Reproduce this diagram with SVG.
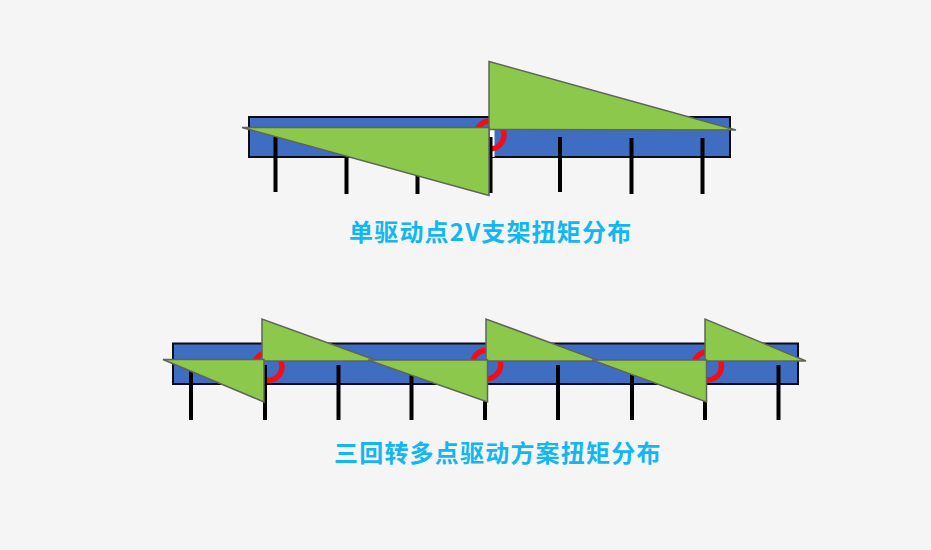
<svg xmlns="http://www.w3.org/2000/svg" width="931" height="550" viewBox="0 0 931 550">
<style>
.beam{fill:#3e6dc2;stroke:#0c0c14;stroke-width:2}
.post{stroke:#000;stroke-width:4;fill:none}
.arc{stroke:#f50c14;stroke-width:5.4;fill:none}
.tri{fill:#8bc84c;stroke:#5e6658;stroke-width:1.5;stroke-linejoin:miter}
.title{font-family:"Noto Sans CJK SC","Noto Sans",sans-serif;font-weight:700;font-size:24px;letter-spacing:1.2px;fill:#12b6f0}
</style>
<rect width="931" height="550" fill="#f5f5f5"/>
<g id="single-drive">
<rect class="beam" x="249" y="117" width="481" height="40"/>
<rect x="490" y="130" width="4.500" height="27" fill="#fff"/>
<circle class="arc" cx="490" cy="135" r="14"/>
<path class="post" d="M275.500 137V192M346.500 137V194M417.500 137V194M490.500 137V193M560 137V192M631.500 138V194M702.500 138V194"/>
<polygon class="tri" points="489,61.500 489,129.500 736,130"/>
<polygon class="tri" points="242,127.500 489,127.500 489,195.500"/>
<text class="title" x="349" y="241">单驱动点2V支架扭矩分布</text>
</g>
<g id="multi-drive">
<rect class="beam" x="173" y="343.500" width="625" height="40.500"/>
<circle class="arc" cx="268" cy="366.500" r="14"/>
<circle class="arc" cx="486.500" cy="364.500" r="14.200"/>
<circle class="arc" cx="707.500" cy="366" r="14"/>
<path class="post" d="M191 365V420M265 365V420M338.500 365V420M411.500 365V420M485 365V420M558 365V420M632 365V420M705 365V420M778.500 365V420"/>
<polygon class="tri" points="262,319 262,361 378,361"/>
<polygon class="tri" points="163,359.500 264,359.500 264,402"/>
<polygon class="tri" points="486,319 486,361 600,361"/>
<polygon class="tri" points="368,360 487.500,360 487.500,402"/>
<polygon class="tri" points="705,319 705,361 806,361"/>
<polygon class="tri" points="592,360 706.500,360 706.500,402"/>
<text class="title" x="334" y="462">三回转多点驱动方案扭矩分布</text>
</g>
</svg>
